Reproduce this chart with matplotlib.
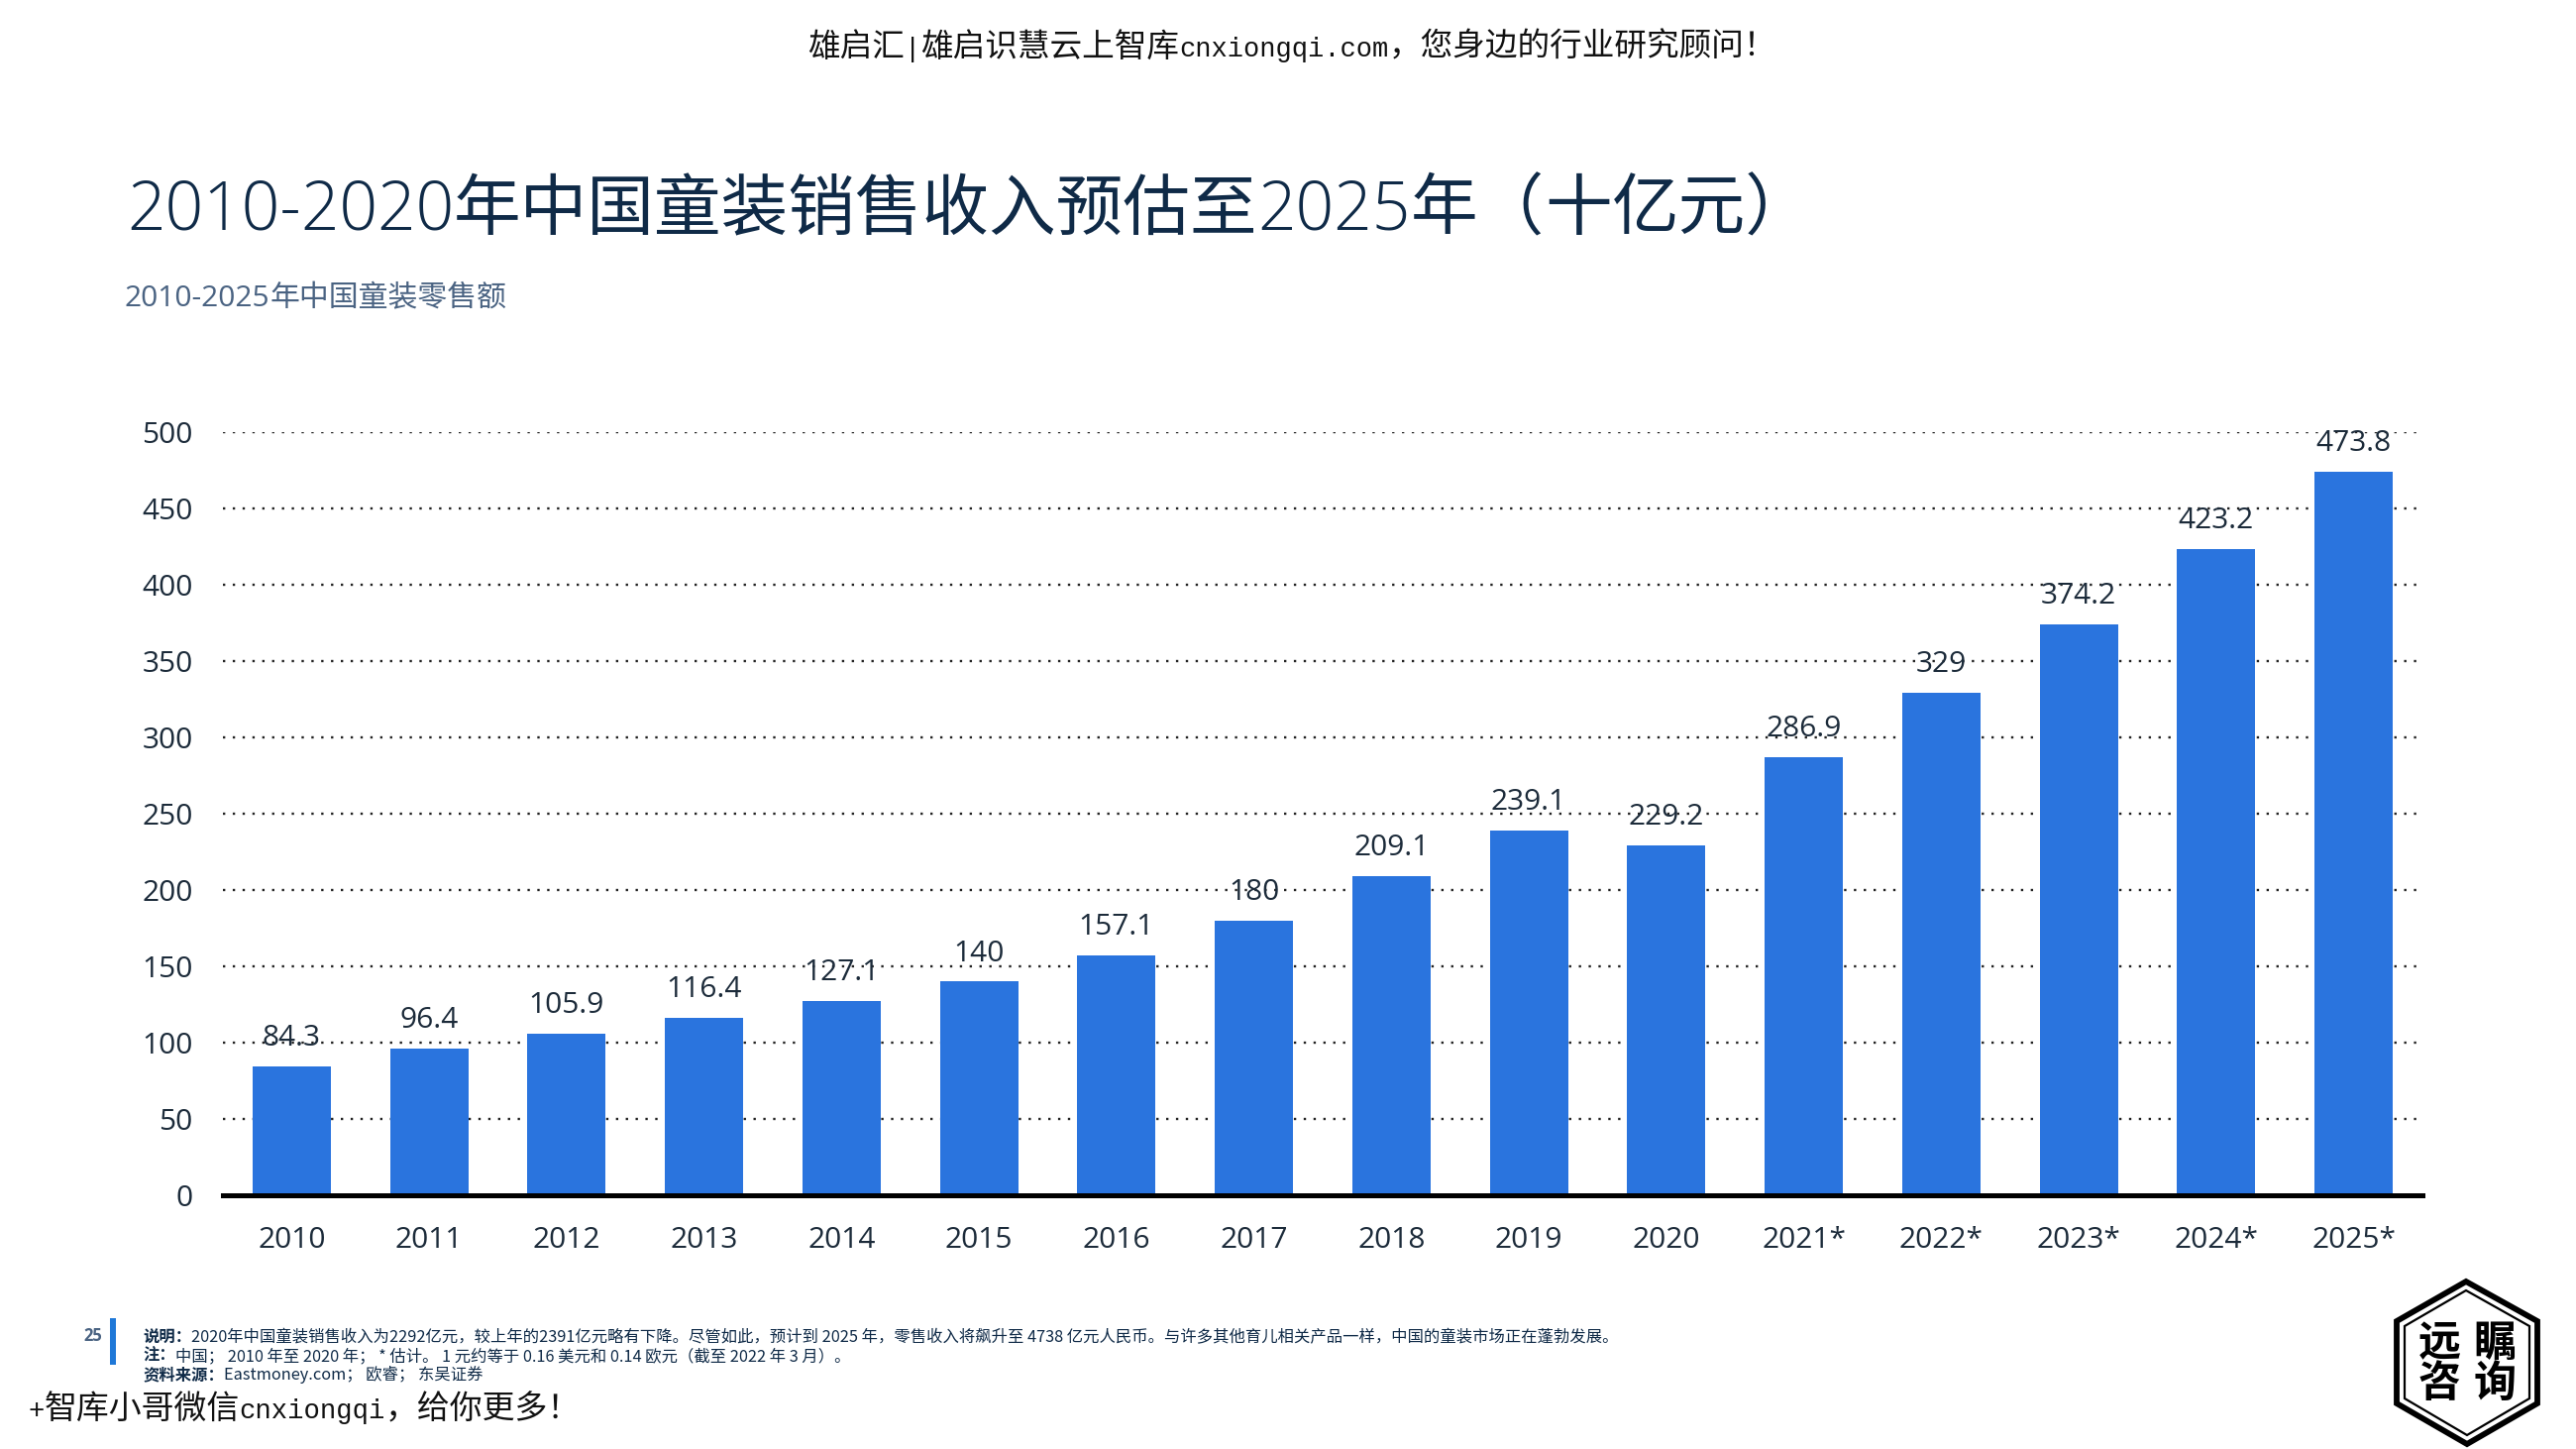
import matplotlib
matplotlib.use('Agg')
import matplotlib.pyplot as plt
from matplotlib.patches import Polygon, Rectangle

years = ['2010', '2011', '2012', '2013', '2014', '2015', '2016', '2017',
         '2018', '2019', '2020', '2021*', '2022*', '2023*', '2024*', '2025*']
revenue = [84.3, 96.4, 105.9, 116.4, 127.1, 140, 157.1, 180,
           209.1, 239.1, 229.2, 286.9, 329, 374.2, 423.2, 473.8]
y_ticks = [0, 50, 100, 150, 200, 250, 300, 350, 400, 450, 500]

W, H = 2600, 1462
LATIN = 'Open Sans'
CJK = 'Noto Sans CJK SC'
MONO = 'Liberation Mono'
BLUE = '#2a74de'
NAVY = '#0f2a47'
SLATE = '#4a6382'
TEXT = '#1c2b3a'

# full width punctuation
COMMA = '\uff0c'
EXCL = '\uff01'
COLON = '\uff1a'
SEMI = '\uff1b'
LPAR = '\uff08'
RPAR = '\uff09'

plt.rcParams['font.family'] = [LATIN, CJK, 'DejaVu Sans']

fig = plt.figure(figsize=(W / 100, H / 100), dpi=100, facecolor='white')
renderer = fig.canvas.get_renderer()

# main axes, placed from the pixel box of the reference
ax = fig.add_axes([225 / W, 1 - 1206 / H, (2445 - 225) / W, (1206 - 436) / H])
x_pos = list(range(len(years)))
bars = ax.bar(x_pos, revenue, width=0.57, color=BLUE, zorder=2)
ax.set_xlim(-0.5, 15.5)
ax.set_ylim(0, 500)
ax.set_xticks(x_pos, years)
ax.set_yticks(y_ticks)
ax.tick_params(axis='both', length=0, labelsize=21.5, labelcolor=TEXT)
ax.tick_params(axis='x', pad=22)
ax.tick_params(axis='y', pad=22)
ax.yaxis.grid(True, color='#222222', linewidth=1.7, linestyle=(0, (1, 3.2)), zorder=1)
for side in ['top', 'right', 'left']:
    ax.spines[side].set_visible(False)
ax.spines['bottom'].set_linewidth(3.6)
ax.spines['bottom'].set_color('black')
ax.spines['bottom'].set_zorder(3)
ax.bar_label(bars, labels=[f'{v:g}' for v in revenue], padding=10, fontsize=21.5,
             color=TEXT, zorder=4)


def px_text(x, y, s, **kw):
    return fig.text(x / W, 1 - y / H, s, **kw)


def run_text(x, y, parts, size, color):
    # pieces with different fonts, one after the other on the same baseline
    for s, family, weight, *scale in parts:
        fs = size * scale[0] if scale else size
        t = px_text(x, y, s, fontsize=fs, color=color, family=family,
                    fontweight=weight, va='baseline', ha='left')
        x = t.get_window_extent(renderer).x1


run_text(815, 57, [('雄启汇', CJK, 'light'),
                   ('|', MONO, 'normal', 0.83),
                   ('雄启识慧云上智库', CJK, 'light'),
                   ('cnxiongqi.com', MONO, 'normal', 0.83),
                   (COMMA + '您身边的行业研究顾问' + EXCL, CJK, 'light')], 23.5, '#111111')

run_text(128, 232, [('2010-2020', LATIN, 'light'),
                    ('年中国童装销售收入预估至', CJK, 'regular'),
                    ('2025', LATIN, 'light'),
                    ('年' + LPAR, CJK, 'regular'),
                    ('十', CJK, 'light'),
                    ('亿元' + RPAR, CJK, 'regular')], 48.7, NAVY)

run_text(126, 309, [('2010-2025', LATIN, 'regular'),
                    ('年中国童装零售额', CJK, 'regular')], 21.5, SLATE)

# footer
note_1 = ('2020年中国童装销售收入为2292亿元' + COMMA + '较上年的2391亿元略有下降。尽管如此' + COMMA
          + '预计到 2025 年' + COMMA + '零售收入将飙升至 4738 亿元人民币。与许多其他育儿相关产品一样'
          + COMMA + '中国的童装市场正在蓬勃发展。')
note_2 = ('中国' + SEMI + ' 2010 年至 2020 年' + SEMI + ' * 估计。 1 元约等于 0.16 美元和 0.14 欧元'
          + LPAR + '截至 2022 年 3 月' + RPAR + '。')
note_3 = 'Eastmoney.com' + SEMI + ' 欧睿' + SEMI + ' 东吴证券'

px_text(94, 1353, '25', fontsize=12, color=SLATE, fontweight='bold', ha='center', va='baseline')
fig.add_artist(Rectangle((111 / W, 1 - 1377 / H), 6 / W, 47 / H,
                         transform=fig.transFigure, color='#1f78d8', lw=0))
run_text(144, 1354, [('说明' + COLON, CJK, 'bold'), (note_1, CJK, 'regular')], 11.75, NAVY)
run_text(144, 1373, [('注' + COLON, CJK, 'bold'), (note_2, CJK, 'regular')], 11.75, NAVY)
run_text(144, 1392, [('资料来源' + COLON, CJK, 'bold'), (note_3, CJK, 'regular')], 11.75, NAVY)

run_text(28, 1431, [('+', MONO, 'normal', 0.83),
                    ('智库小哥微信', CJK, 'light'),
                    ('cnxiongqi', MONO, 'normal', 0.83),
                    (COMMA + '给你更多' + EXCL, CJK, 'light')], 23.7, '#111111')

# hexagon logo
outer = [(2489, 1293), (2561, 1333), (2561, 1416), (2490, 1457), (2419, 1416), (2419, 1333)]
inner = [(2489, 1302), (2553, 1338), (2553, 1411), (2490, 1448), (2427, 1411), (2427, 1338)]
for pts, lw in [(outer, 4.2), (inner, 1.6)]:
    fig.add_artist(Polygon([(x / W, 1 - y / H) for x, y in pts], closed=True, fill=False,
                           edgecolor='black', linewidth=lw, transform=fig.transFigure,
                           joinstyle='miter'))
for x, y, s in [(2462, 1355, '远'), (2518, 1355, '瞩'), (2462, 1396, '咨'), (2518, 1396, '询')]:
    px_text(x, y, s, fontsize=31, family=CJK, fontweight='bold', color='black',
            ha='center', va='center')

fig.savefig('out.png', dpi=100)
